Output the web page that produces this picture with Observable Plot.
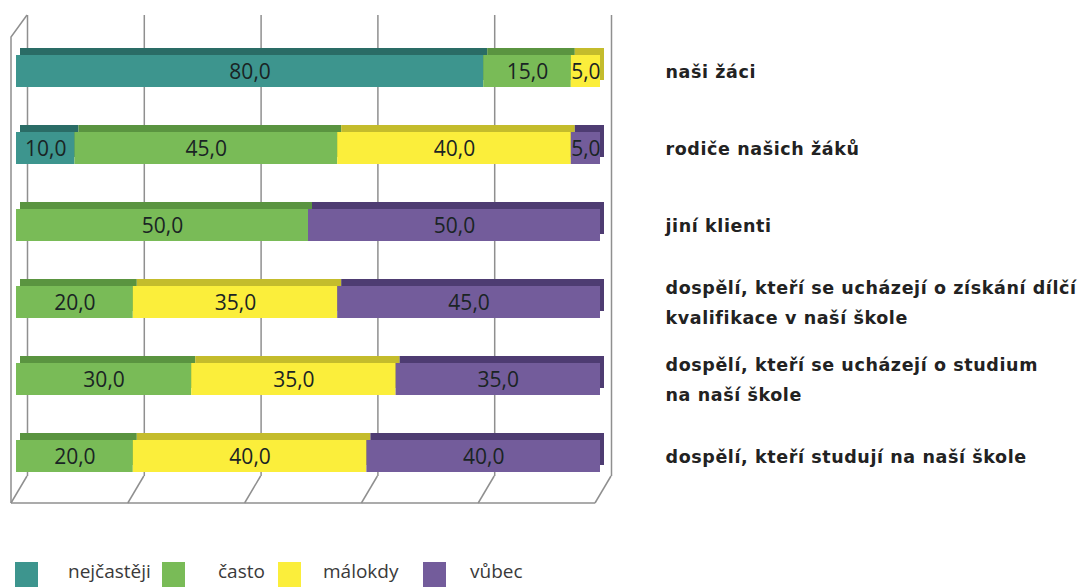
<!DOCTYPE html>
<html>
<head>
<meta charset="utf-8">
<script src="https://cdn.jsdelivr.net/npm/d3@7"></script>
<script src="https://cdn.jsdelivr.net/npm/@observablehq/plot@0.6"></script>
<style>
  html, body { margin: 0; padding: 0; background: #fff; }
  #wrap { position: relative; width: 1079px; height: 587px; overflow: hidden; }
  #legend { position: absolute; left: 0; top: 524px; width: 1079px; height: 63px; font-family: "Open Sans", sans-serif; }
  .sw { position: absolute; top: 38px; width: 23px; height: 25px; }
  .lt { position: absolute; top: 35px; font-size: 19px; line-height: 24px; color: #3a3a3a; }
  .catlabel text { letter-spacing: 0.6px; }
</style>
</head>
<body>
<div id="wrap">
  <div id="chart"></div>
  <div id="legend"></div>
</div>
<script>
// ---- data ----
const groups = [
  "naši žáci",
  "rodiče našich žáků",
  "jiní klienti",
  "dospělí, kteří se ucházejí o získání dílčí kvalifikace v naší škole",
  "dospělí, kteří se ucházejí o studium na naší škole",
  "dospělí, kteří studují na naší škole"
];
const groupLabels = [
  "naši žáci",
  "rodiče našich žáků",
  "jiní klienti",
  "dospělí, kteří se ucházejí o získání dílčí\nkvalifikace v naší škole",
  "dospělí, kteří se ucházejí o studium\nna naší škole",
  "dospělí, kteří studují na naší škole"
];
const series = ["nejčastěji", "často", "málokdy", "vůbec"];
const nejcasteji = [80, 10, 0, 0, 0, 0];
const casto      = [15, 45, 50, 20, 30, 20];
const malokdy    = [5, 40, 0, 35, 35, 40];
const vubec      = [0, 5, 50, 45, 35, 40];
const xTicks = [0, 20, 40, 60, 80, 100];

const colors = ["#3d958e", "#79bb57", "#fbee3b", "#735c9b"];
const darkColors = ["#2a6c66", "#5a9440", "#c4bc2c", "#4e3c72"];

// ---- build table (stack positions derived from the values) ----
const valuesBySeries = [nejcasteji, casto, malokdy, vubec];
const rows = [];
groups.forEach((g, gi) => {
  let acc = 0;
  series.forEach((s, si) => {
    const v = valuesBySeries[si][gi];
    rows.push({group: g, series: s, value: v, x1: acc, x2: acc + v});
    acc += v;
  });
});
const fmt = v => v.toFixed(1).replace(".", ",");

const marks = [
  Plot.ruleX(xTicks, {dx: 11, insetTop: 8, insetBottom: 44, stroke: "#8f8f8f", strokeWidth: 1.5})
];
series.forEach((s, si) => {
  marks.push(Plot.barX(rows.filter(r => r.series === s && r.value > 0), {
    x1: "x1", x2: "x2", y: "group", fill: darkColors[si], dx: 4, dy: -7
  }));
});
marks.push(Plot.barX(rows.filter(r => r.value > 0), {x1: "x1", x2: "x2", y: "group", fill: "series"}));
marks.push(Plot.text(rows.filter(r => r.value > 0), {
  x: r => (r.x1 + r.x2) / 2, y: "group", text: r => fmt(r.value), dy: 1,
  fontSize: 21, fill: "#1a2424", fontFamily: "Open Sans, sans-serif"
}));
marks.push(Plot.text(groups, {
  y: d => d, text: (d, i) => groupLabels[i], frameAnchor: "right", dx: 65, dy: -3,
  textAnchor: "start", fontSize: 17.5, fontWeight: 700, fontFamily: "DejaVu Sans, sans-serif",
  lineHeight: 1.7, fill: "#222", className: "catlabel"
}));

const chart = Plot.plot({
  width: 1079,
  height: 524,
  marginLeft: 16,
  marginRight: 479,
  marginTop: 7,
  marginBottom: 4,
  x: {domain: [0, 100], axis: null},
  y: {domain: groups, padding: 0.59, axis: null},
  color: {domain: series, range: colors},
  style: {background: "transparent"},
  marks
});
document.getElementById("chart").appendChild(chart);

// ---- 3D wall/floor decoration using the plot's x scale ----
const xs = chart.scale("x");
const svg = d3.select(chart);
const g = svg.insert("g", ":first-child").attr("fill", "none").attr("stroke", "#8f8f8f").attr("stroke-width", 1.5);
const backTop = 15, backBottom = 476, frontBottom = 503, frontTopLeft = 37;
const back = v => xs.apply(v) + 11;
const front = v => xs.apply(v) - 5;
// floor front edge
g.append("line").attr("x1", front(0)).attr("x2", front(100)).attr("y1", frontBottom).attr("y2", frontBottom);
// floor slants
xTicks.forEach(t => {
  g.append("line").attr("x1", back(t)).attr("y1", backBottom).attr("x2", front(t)).attr("y2", frontBottom);
});
// left wall
g.append("path").attr("d", `M${front(0)},${frontBottom}V${frontTopLeft}L${back(0)},${backTop}`);

// ---- legend ----
const swX = [15, 162, 278, 423];
const ltX = [68, 218, 323, 470];
const legend = document.getElementById("legend");
series.forEach((s, i) => {
  const sw = document.createElement("div");
  sw.className = "sw"; sw.style.left = swX[i] + "px"; sw.style.background = colors[i];
  legend.appendChild(sw);
  const lt = document.createElement("div");
  lt.className = "lt"; lt.style.left = ltX[i] + "px"; lt.textContent = s;
  legend.appendChild(lt);
});
</script>
</body>
</html>
